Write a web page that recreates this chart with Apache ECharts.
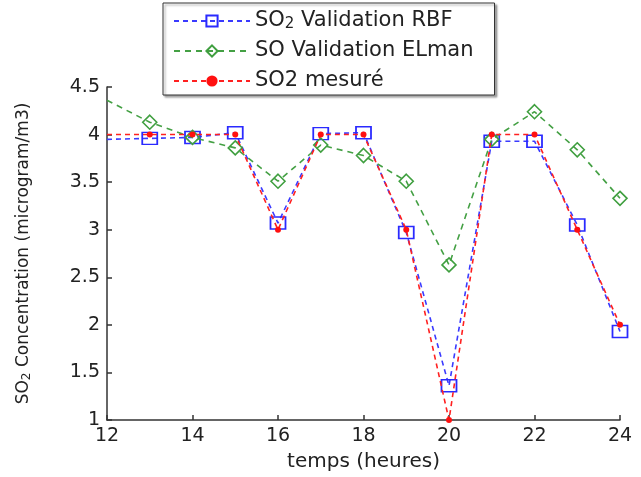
<!DOCTYPE html>
<html>
<head>
<meta charset="utf-8">
<script src="https://cdn.jsdelivr.net/npm/echarts@6/dist/echarts.min.js"></script>
<style>
html,body{margin:0;padding:0;background:#fff;}
#main{width:641px;height:477px;}
</style>
</head>
<body>
<div id="main"></div>
<script>
// Data
var hours = [12, 13, 14, 15, 16, 17, 18, 19, 20, 21, 22, 23, 24];
var rbfValues = [3.95, 3.96, 3.97, 4.02, 3.07, 4.01, 4.02, 2.97, 1.36, 3.93, 3.93, 3.05, 1.93];
var elmanValues = [4.36, 4.13, 3.97, 3.86, 3.51, 3.89, 3.78, 3.51, 2.63, 3.95, 4.24, 3.84, 3.33];
var measuredValues = [4.0, 4.0, 4.0, 4.0, 3.0, 4.0, 4.0, 3.0, 1.0, 4.0, 4.0, 3.0, 2.0];
var seriesNames = ['SO2 Validation RBF', 'SO Validation ELman', 'SO2 mesuré'];
var legendLabels = ['SO{sub|2} Validation RBF', 'SO Validation ELman', 'SO2 mesuré'];
var xTicks = { min: 12, max: 24, interval: 2 };
var yTicks = { min: 1, max: 4.5, interval: 0.5 };

function pairs(vals) {
  return hours.map(function (h, i) {
    var item = { value: [h, vals[i]] };
    if (i === 0) item.symbol = 'none';
    return item;
  });
}

var FONT = 'DejaVu Sans';
var chart = echarts.init(document.getElementById('main'), null, { renderer: 'canvas' });
chart.setOption({
  animation: false,
  backgroundColor: '#fff',
  grid: { left: 107, right: 21, top: 87, bottom: 54, containLabel: false },
  legend: {
    orient: 'vertical',
    left: 163,
    top: 3,
    padding: [7, 21, 3, 10],
    itemGap: 8,
    itemWidth: 76,
    itemHeight: 14,
    backgroundColor: '#fff',
    borderColor: '#333',
    borderWidth: 1,
    shadowColor: 'rgba(0,0,0,0.35)',
    shadowBlur: 2,
    shadowOffsetX: 2,
    shadowOffsetY: 2,
    data: seriesNames,
    formatter: function (name) {
      return legendLabels[seriesNames.indexOf(name)];
    },
    textStyle: {
      fontFamily: FONT,
      fontSize: 21,
      color: '#222',
      lineHeight: 22,
      rich: {
        sub: { fontFamily: FONT, fontSize: 15, color: '#222', lineHeight: 3, verticalAlign: 'bottom' }
      }
    }
  },
  xAxis: {
    type: 'value',
    min: xTicks.min,
    max: xTicks.max,
    interval: xTicks.interval,
    name: 'temps (heures)',
    nameLocation: 'middle',
    nameGap: 32,
    nameTextStyle: { fontFamily: FONT, fontSize: 20, color: '#222' },
    axisLine: { show: true, onZero: false, lineStyle: { color: '#333', width: 1.5 } },
    axisTick: { show: true, inside: true, length: 5, lineStyle: { color: '#333', width: 1.5 } },
    axisLabel: { fontFamily: FONT, fontSize: 19, color: '#222', margin: 7 },
    splitLine: { show: false }
  },
  yAxis: {
    type: 'value',
    min: yTicks.min,
    max: yTicks.max,
    interval: yTicks.interval,
    name: 'SO{sub|2} Concentration (microgram/m3)',
    nameLocation: 'middle',
    nameGap: 74,
    nameTextStyle: {
      fontFamily: FONT,
      fontSize: 17,
      color: '#222',
      lineHeight: 18,
      rich: {
        sub: { fontFamily: FONT, fontSize: 12, color: '#222', lineHeight: 3, verticalAlign: 'bottom' }
      }
    },
    axisLine: { show: true, onZero: false, lineStyle: { color: '#333', width: 1.5 } },
    axisTick: { show: true, inside: true, length: 5, lineStyle: { color: '#333', width: 1.5 } },
    axisLabel: { fontFamily: FONT, fontSize: 19, color: '#222', margin: 7 },
    splitLine: { show: false }
  },
  series: [
    {
      name: seriesNames[0],
      type: 'line',
      data: pairs(rbfValues),
      symbol: 'rect',
      symbolSize: [15, 12],
      color: '#2a2aff',
      lineStyle: { color: '#3a3aff', width: 1.6, type: [5, 4] },
      itemStyle: { color: 'rgba(255,255,255,0)', borderColor: '#2a2aff', borderWidth: 1.6 },
      z: 2
    },
    {
      name: seriesNames[1],
      type: 'line',
      data: pairs(elmanValues),
      symbol: 'diamond',
      symbolSize: 14,
      color: '#3f9f3f',
      lineStyle: { color: '#44a044', width: 1.6, type: [6, 5] },
      itemStyle: { color: 'rgba(255,255,255,0)', borderColor: '#3f9f3f', borderWidth: 1.6 },
      z: 3
    },
    {
      name: seriesNames[2],
      type: 'line',
      data: pairs(measuredValues),
      symbol: 'circle',
      symbolSize: 6,
      color: '#ff1010',
      lineStyle: { color: '#ff2020', width: 1.6, type: [5, 4] },
      itemStyle: { color: '#ff1010', borderColor: '#ff1010', borderWidth: 0 },
      z: 4
    }
  ]
});
</script>
</body>
</html>
